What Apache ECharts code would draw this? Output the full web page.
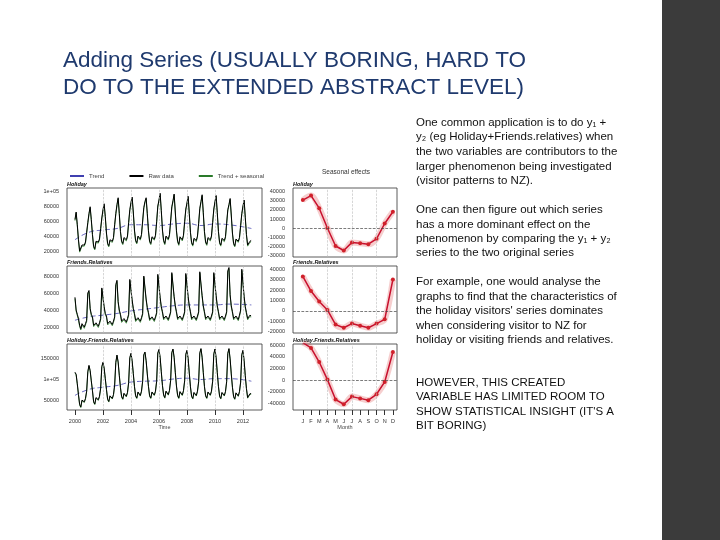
<!DOCTYPE html>
<html><head><meta charset="utf-8">
<script src="https://cdn.jsdelivr.net/npm/echarts@6/dist/echarts.min.js"></script>
<style>html,body{margin:0;background:#fff}#c{width:720px;height:540px}</style>
</head><body><div id="c"></div>
<script>
// monthly raw data, one row per year 2000..2012
const holidayRaw = [
  [62000,72000,55000,35000,20000,18000,28000,30000,28000,32000,45000,58000],
  [70000,79000,62000,42000,26000,23000,33000,31000,32000,36000,50000,64000],
  [75000,83000,66000,44000,30000,27000,35000,34000,33000,38000,55000,70000],
  [82000,91000,70000,46000,33000,30000,38000,36000,35000,40000,58000,75000],
  [85000,92000,72000,48000,34000,31000,40000,38000,36000,42000,60000,78000],
  [86000,91000,70000,47000,33000,30000,39000,37000,36000,41000,59000,80000],
  [88000,97000,74000,48000,34000,30000,40000,38000,36000,42000,60000,79000],
  [87000,96000,72000,47000,33000,29000,39000,37000,35000,41000,59000,76000],
  [84000,93000,70000,45000,31000,28000,37000,35000,34000,40000,57000,77000],
  [86000,95000,71000,46000,32000,29000,38000,36000,35000,40000,58000,76000],
  [86000,94000,71000,46000,31000,28000,37000,35000,34000,39000,57000,75000],
  [82000,90000,68000,44000,30000,27000,36000,34000,33000,38000,54000,70000],
  [80000,88000,65000,42000,28000,26000,33000,34000]
];
const friendsRaw = [
  [55000,40000,35000,30000,22000,18000,24000,22000,20000,24000,28000,60000],
  [63000,42000,35000,32000,22000,20000,25000,23000,21000,25000,30000,66000],
  [65000,44000,36000,33000,24000,22000,27000,25000,23000,27000,32000,70000],
  [75000,50000,40000,35000,27000,25000,30000,28000,26000,30000,35000,76000],
  [76000,52000,42000,36000,28000,26000,31000,29000,27000,31000,36000,80000],
  [78000,53000,43000,37000,29000,27000,32000,30000,28000,32000,37000,82000],
  [82000,55000,44000,38000,30000,28000,33000,31000,29000,33000,38000,84000],
  [84000,56000,45000,38000,30000,28000,33000,31000,29000,33000,38000,83000],
  [84000,56000,45000,38000,30000,28000,33000,31000,29000,33000,38000,85000],
  [86000,57000,45000,38000,30000,28000,33000,31000,29000,33000,38000,84000],
  [85000,57000,45000,38000,30000,28000,33000,31000,29000,33000,38000,86000],
  [90000,58000,45000,38000,30000,28000,33000,31000,29000,34000,40000,88000],
  [88000,56000,44000,37000,30000,31000,34000,33000]
];
const trendYears = [2000,2001,2002,2003,2004,2005,2006,2007,2008,2009,2010,2011,2012.6];
const holidayTrend = [35000,45000,48000,50000,55000,55000,54000,56000,57000,54000,56000,55000,50000];
const friendsTrend = [28000,32000,34000,36000,39000,41000,43000,45000,46000,46000,46000,47000,46000];
const months = ['J','F','M','A','M','J','J','A','S','O','N','D'];
const holidaySeas = [31000,36000,22000,0,-20000,-25000,-16000,-17000,-18000,-12000,5000,18000];
const friendsSeas = [33000,19000,9000,1000,-13000,-16000,-12000,-14000,-16000,-12000,-8000,30000];
const yearTicks = [2000,2002,2004,2006,2008,2010,2012];

const sum = (a, b) => a.map((r, i) => r.map((v, j) => v + b[i][j]));
const flat = rows => { const o = []; rows.forEach((r, i) => r.forEach((v, j) => o.push([2000 + i + j / 12, v]))); return o; };
const pairs = (xs, ys) => xs.map((x, i) => [x, ys[i]]);

const panels = [
  {name:'Holiday', raw:holidayRaw, trend:holidayTrend, seas:holidaySeas, y:188, h:69,
   lmin:12000, lmax:104000, lt:[20000,40000,60000,80000,100000], smin:-32200, smax:44400,
   st:[-30000,-20000,-10000,0,10000,20000,30000,40000]},
  {name:'Friends.Relatives', raw:friendsRaw, trend:friendsTrend, seas:friendsSeas, y:266, h:67,
   lmin:13000, lmax:91800, lt:[20000,40000,60000,80000], smin:-21000, smax:42900,
   st:[-20000,-10000,0,10000,20000,30000,40000]},
  {name:'Holiday.Friends.Relatives', raw:sum(holidayRaw, friendsRaw),
   trend:holidayTrend.map((v, i) => v + friendsTrend[i]),
   seas:holidaySeas.map((v, i) => v + friendsSeas[i]), y:344, h:66,
   lmin:29000, lmax:182600, lt:[50000,100000,150000], smin:-50800, smax:61700,
   st:[-40000,-20000,0,20000,40000,60000]}
];

const fmt = v => v === 100000 ? '1e+05' : String(v);
const lab = {fontSize:5.5, color:'#333', fontFamily:'Liberation Sans'};
const grid = [], xAxis = [], yAxis = [], series = [];
panels.forEach((p, k) => {
  const last = k === 2;
  grid.push({left:67, top:p.y, width:195, height:p.h, show:true, borderColor:'#333', borderWidth:0.8});
  grid.push({left:293, top:p.y, width:104, height:p.h, show:true, borderColor:'#333', borderWidth:0.8});
  xAxis.push({type:'value', gridIndex:2*k, min:1999.43, max:2013.36, splitLine:{show:false}, axisLine:{show:false, onZero:false},
    axisTick:{show:last, customValues:yearTicks, lineStyle:{color:'#333'}},
    axisLabel:{show:last, customValues:yearTicks, formatter:v => String(v), ...lab},
    name:last ? 'Time' : '', nameLocation:'middle', nameGap:12, nameTextStyle:{fontSize:5.5, color:'#444'}});
  xAxis.push({type:'value', gridIndex:2*k+1, min:-0.2, max:12.5, splitLine:{show:false}, axisLine:{show:false, onZero:false},
    axisTick:{show:last, customValues:[1,2,3,4,5,6,7,8,9,10,11,12], lineStyle:{color:'#333'}},
    axisLabel:{show:last, customValues:[1,2,3,4,5,6,7,8,9,10,11,12], formatter:v => months[v - 1], ...lab},
    name:last ? 'Month' : '', nameLocation:'middle', nameGap:12, nameTextStyle:{fontSize:5.5, color:'#444'}});
  yAxis.push({type:'value', gridIndex:2*k, min:p.lmin, max:p.lmax, splitLine:{show:false}, axisLine:{show:false},
    axisTick:{show:false}, axisLabel:{customValues:p.lt, formatter:fmt, ...lab}});
  yAxis.push({type:'value', gridIndex:2*k+1, min:p.smin, max:p.smax, splitLine:{show:false}, axisLine:{show:false},
    axisTick:{show:false}, axisLabel:{customValues:p.st, formatter:v => String(v), ...lab}});
  const raw = flat(p.raw);
  const tr = pairs(trendYears, p.trend);
  series.push({name:'Trend', type:'line', xAxisIndex:2*k, yAxisIndex:2*k, data:tr, showSymbol:false, smooth:true,
    lineStyle:{color:'#4040b0', width:0.8, type:[5,3]}, itemStyle:{color:'#4040b0'},
    markLine:{silent:true, symbol:'none', label:{show:false}, lineStyle:{color:'#bbb', type:'dashed', width:0.6},
      data:yearTicks.slice(1).map(x => ({xAxis:x}))}});
  series.push({name:'Trend + seasonal', type:'line', xAxisIndex:2*k, yAxisIndex:2*k, data:raw.map(([x, v]) => [x, v - 1500]),
    showSymbol:false, lineStyle:{color:'#2a7a2a', width:0.8}, itemStyle:{color:'#2a7a2a'}});
  series.push({name:'Raw data', type:'line', xAxisIndex:2*k, yAxisIndex:2*k, data:raw, showSymbol:false,
    lineStyle:{color:'#000', width:1}, itemStyle:{color:'#000'}});
  const s = p.seas.map((v, i) => [i + 1, v]);
  series.push({type:'line', xAxisIndex:2*k+1, yAxisIndex:2*k+1, data:s, showSymbol:false, smooth:0.3,
    lineStyle:{color:'rgba(220,60,60,0.25)', width:6},
    markLine:{silent:true, symbol:'none', label:{show:false},
      data:[{yAxis:0, lineStyle:{color:'#444', type:'dashed', width:0.7}},
            ...[4,7,10].map(x => ({xAxis:x, lineStyle:{color:'#bbb', type:'dashed', width:0.6}}))]}});
  series.push({type:'line', xAxisIndex:2*k+1, yAxisIndex:2*k+1, data:s, symbol:'circle', symbolSize:4,
    lineStyle:{color:'#c8102e', width:1.5}, itemStyle:{color:'#d0202a'}});
});

const body = [
  [124,'One common application is to do y₁ +'],[138,'y₂ (eg Holiday+Friends.relatives) when'],
  [153,'the two variables are contributors to the'],[168,'larger phenomenon being investigated'],
  [182,'(visitor patterns to NZ).'],
  [211,'One can then figure out which series'],[226,'has a more dominant effect on the'],
  [240,'phenomenon by comparing the y₁ + y₂'],[254,'series to the two original series'],
  [283,'For example, one would analyse the'],[298,'graphs to find that the characteristics of'],
  [312,"the holiday visitors' series dominates"],[327,'when considering visitor to NZ for'],
  [341,'holiday or visiting friends and relatives.'],
  [384,'HOWEVER, THIS CREATED'],[398,'VARIABLE HAS LIMITED ROOM TO'],
  [413,"SHOW STATISTICAL INSIGHT (IT'S A"],[427,'BIT BORING)']
];
const graphic = [
  {type:'rect', shape:{x:662, y:0, width:58, height:540}, style:{fill:'#3b3b3b'}},
  {type:'text', left:63, top:47, style:{text:'Adding Series (USUALLY BORING, HARD TO\nDO TO THE EXTENDED ABSTRACT LEVEL)',
    font:'22.5px Liberation Sans', fill:'#1f3a6e', lineHeight:27}},
  {type:'text', left:322, top:169, style:{text:'Seasonal effects', font:'6.5px Liberation Sans', fill:'#333'}},
  ...body.map(([y, t]) => ({type:'text', left:416, top:y - 7, style:{text:t, font:'11.5px Liberation Sans', fill:'#111'}})),
  ...panels.flatMap(p => [
    {type:'text', left:67, top:p.y - 7, style:{text:p.name, font:'italic bold 5.5px Liberation Sans', fill:'#111'}},
    {type:'text', left:293, top:p.y - 7, style:{text:p.name, font:'italic bold 5.5px Liberation Sans', fill:'#111'}}
  ])
];

const chart = echarts.init(document.getElementById('c'));
chart.setOption({
  animation:false,
  legend:{data:['Trend','Raw data','Trend + seasonal'], left:65, top:168, itemWidth:14, itemHeight:2, itemGap:25,
    icon:'rect', textStyle:{fontSize:6, color:'#444'}},
  grid, xAxis, yAxis, series, graphic
});
</script></body></html>
